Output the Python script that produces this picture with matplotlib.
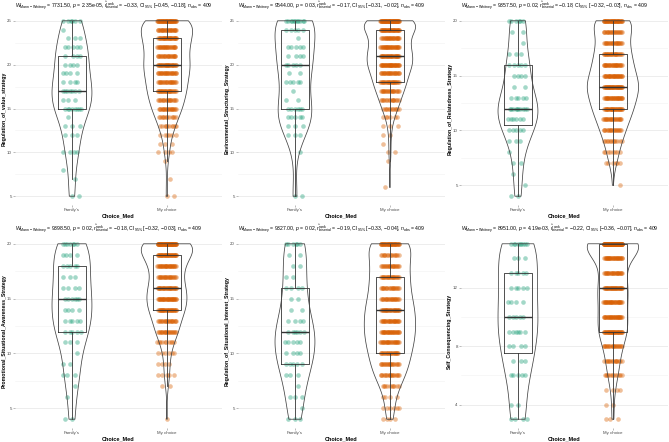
import numpy as np
import matplotlib
matplotlib.use('Agg')
import matplotlib.pyplot as plt

plt.rcParams['font.family'] = ['Liberation Sans', 'DejaVu Sans']
plt.rcParams['mathtext.fontset'] = 'custom'
plt.rcParams['mathtext.rm'] = 'Liberation Sans'
plt.rcParams['mathtext.it'] = 'Liberation Sans:italic'
plt.rcParams['mathtext.bf'] = 'Liberation Sans:bold'

# ---- data (counts of respondents per score) ----
groups = ["Family's", "My choice"]

value_levels = list(range(5, 26))
value_fam = [2, 0, 1, 1, 0, 4, 0, 3, 3, 1, 8, 3, 7, 4, 4, 4, 4, 5, 3, 1, 6]
value_mine = [2, 0, 1, 0, 1, 4, 3, 6, 10, 12, 20, 18, 25, 22, 25, 30, 22, 25, 30, 25, 45]

env_levels = list(range(5, 26))
env_fam = [2, 0, 0, 0, 0, 1, 0, 3, 3, 5, 6, 2, 1, 5, 2, 5, 4, 5, 1, 5, 11]
env_mine = [0, 1, 0, 0, 1, 2, 1, 2, 3, 6, 12, 15, 20, 25, 25, 35, 32, 30, 25, 35, 55]

rel_levels = list(range(4, 21))
rel_fam = [2, 1, 1, 2, 1, 3, 5, 6, 10, 5, 2, 4, 5, 3, 1, 2, 6]
rel_mine = [0, 1, 0, 6, 8, 12, 18, 22, 30, 30, 40, 30, 28, 25, 22, 20, 40]

promo_levels = list(range(4, 21))
promo_fam = [2, 0, 1, 1, 3, 2, 1, 3, 5, 5, 4, 6, 4, 3, 5, 4, 7]
promo_mine = [1, 0, 0, 2, 5, 4, 6, 10, 20, 20, 30, 32, 30, 22, 28, 35, 60]

interest_levels = list(range(4, 21))
interest_fam = [3, 1, 3, 1, 3, 5, 4, 5, 6, 4, 2, 2, 4, 2, 2, 2, 6]
interest_mine = [4, 6, 4, 10, 18, 20, 22, 25, 28, 25, 28, 22, 20, 22, 20, 15, 40]

conseq_levels = list(range(3, 16))
conseq_fam = [4, 2, 0, 5, 3, 4, 6, 5, 4, 5, 5, 3, 9]
conseq_mine = [3, 2, 4, 12, 15, 20, 35, 30, 30, 35, 25, 30, 95]

ylabels = ['Regulation_of_value_strategy', 'Environmental_Structuring_Strategy',
           'Regulation_of_Relatedness_Strategy', 'Promotional_Situational_Awareness_Strategy',
           'Regulation_of_Situational_Interest_Strategy', 'Self_Consequencing_Strategy']

w_stat = ['7731.50', '9544.00', '9357.50', '9398.50', '9327.00', '8951.00']
p_val = ['2.35e-05', '0.03', '0.02', '0.02', '0.02', '4.19e-03']
r_rb = ['0.33', '0.17', '0.18', '0.18', '0.19', '0.22']
ci_lo = ['0.45', '0.31', '0.32', '0.32', '0.33', '0.36']
ci_hi = ['0.18', '0.02', '0.03', '0.03', '0.04', '0.07']
n_obs = [409] * 6

yticks_list = [[5, 10, 15, 20, 25], [5, 10, 15, 20, 25], [5, 10, 15, 20],
               [5, 10, 15, 20], [5, 10, 15, 20], [4, 8, 12]]

panels = [(value_levels, value_fam, value_mine),
          (env_levels, env_fam, env_mine),
          (rel_levels, rel_fam, rel_mine),
          (promo_levels, promo_fam, promo_mine),
          (interest_levels, interest_fam, interest_mine),
          (conseq_levels, conseq_fam, conseq_mine)]

colors = ['#1B9E77', '#D95F02']
violin_w = [0.42, 0.54]
line_col = '#333333'


def expand(levels, counts):
    return np.repeat(np.array(levels, dtype=float), counts)


def kde(vals, grid):
    # gaussian kernel, bw.nrd0 like R
    n = len(vals)
    sd = vals.std(ddof=1)
    q75, q25 = np.percentile(vals, [75, 25])
    bw = 0.9 * min(sd, (q75 - q25) / 1.34) * n ** -0.2
    z = (grid[:, None] - vals[None, :]) / bw
    return np.exp(-0.5 * z ** 2).sum(1) / (n * bw * np.sqrt(2 * np.pi))


def jitter_x(levels, counts, center):
    xs = []
    for lv, c in zip(levels, counts):
        k = np.arange(c)
        off = ((k * 0.618034 + lv * 0.377) % 1.0 - 0.5) * 0.2
        xs.extend(center + off)
    return np.array(xs)


W, H = 669, 442
fig = plt.figure(figsize=(W / 100, H / 100), dpi=100)

for i, (levels, fam, mine) in enumerate(panels):
    row, col = divmod(i, 3)
    x0 = col * 223
    top = 12 + row * 223
    bottom = 205 + row * 223
    ax = fig.add_axes([(x0 + 15) / W, 1 - bottom / H, 207 / W, (bottom - top) / H])

    data = [expand(levels, fam), expand(levels, mine)]
    counts = [fam, mine]

    # points
    for g in range(2):
        xs = jitter_x(levels, counts[g], g + 1)
        ax.scatter(xs, data[g], s=11, color=colors[g], alpha=0.4, linewidths=0, zorder=1)

    # box
    ax.boxplot(data, positions=[1, 2], widths=0.3, showfliers=False, showcaps=False,
               patch_artist=False, zorder=2,
               boxprops=dict(color=line_col, lw=0.6),
               whiskerprops=dict(color=line_col, lw=0.6),
               medianprops=dict(color=line_col, lw=1.0))

    # violins
    for g in range(2):
        gr = np.linspace(data[g].min(), data[g].max(), 512)
        d = kde(data[g], gr)
        hw = d / d.max() * violin_w[g] / 2
        ax.fill_betweenx(gr, g + 1 - hw, g + 1 + hw, facecolor='none',
                         edgecolor='#444444', lw=0.55, zorder=3)

    lo = min(levels[j] for j in range(len(levels)) if fam[j] + mine[j] > 0)
    hi = max(levels[j] for j in range(len(levels)) if fam[j] + mine[j] > 0)
    pad = (hi - lo) * 0.05
    ax.set_ylim(lo - pad, hi + pad)
    ax.set_xlim(0.4, 2.58)
    ax.set_xticks([1, 2])
    ax.set_xticklabels(groups)
    yt = yticks_list[i]
    ax.set_yticks(yt)
    ax.set_yticks(np.array(yt[:-1]) + (yt[1] - yt[0]) / 2, minor=True)
    ax.tick_params(axis='both', which='major', labelsize=3.2, labelcolor='#4D4D4D',
                   color='#888888', length=1.5, width=0.4, pad=0.8)
    ax.tick_params(axis='y', which='minor', length=0)
    ax.grid(axis='y', which='major', color='#E6E6E6', lw=0.5)
    ax.grid(axis='y', which='minor', color='#F2F2F2', lw=0.4)
    ax.set_axisbelow(True)
    for s in ax.spines.values():
        s.set_visible(False)

    ax.set_xlabel('Choice_Med', fontsize=4.0, fontweight='bold', labelpad=1.0)
    ax.set_ylabel(ylabels[i], fontsize=3.7, fontweight='bold', labelpad=0.4)

    title = (r'$W_{\mathrm{Mann-Whitney}}$ = ' + w_stat[i] + r', $p$ = ' + p_val[i]
             + r', $\widehat{r}_{\mathrm{biserial}}^{\mathrm{rank}}$ = $-$' + r_rb[i]
             + r', CI$_{95\%}$ [$-$' + ci_lo[i] + r', $-$' + ci_hi[i] + r'], $n_{\mathrm{obs}}$ = '
             + str(n_obs[i]))
    ax.set_title(title, fontsize=3.7, loc='left', pad=3)

fig.savefig('out.png', dpi=100)
